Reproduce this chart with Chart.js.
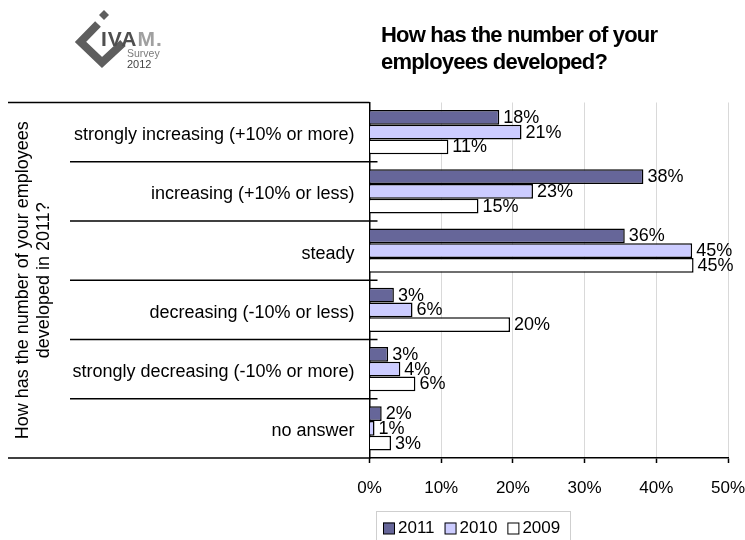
<!DOCTYPE html>
<html>
<head>
<meta charset="utf-8">
<title>Employees development</title>
<script src="https://cdn.jsdelivr.net/npm/chart.js@4/dist/chart.umd.min.js"></script>
<style>
  html, body { margin: 0; padding: 0; background: #fff; }
</style>
</head>
<body>
<canvas id="employeeChart" width="745" height="540"></canvas>
<script>
'use strict';

// Antworten (Kategorien) und Werte je Umfragejahr in %
const categories = [
  'strongly increasing (+10% or more)',
  'increasing (+10% or less)',
  'steady',
  'decreasing (-10% or less)',
  'strongly decreasing (-10% or more)',
  'no answer',
];
const seriesLabels = ['2011', '2010', '2009'];
const values2011 = [18.1, 38.2, 35.6, 3.4, 2.6, 1.7];
const values2010 = [21.2, 22.8, 45.0, 6.0, 4.3, 0.7];
const values2009 = [11.0, 15.2, 45.2, 19.6, 6.4, 3.0];
const xTicks = [0, 10, 20, 30, 40, 50];

const titleLines = ['How has the number of your', 'employees developed?'];
const axisTitle = ['How has the number of your employees', 'developed in 2011?'];

const FONT = '"Liberation Sans", Arial, sans-serif';

// Logo, Titel, Trennlinien, Werte und Legende
const decorations = {
  id: 'decorations',
  afterDatasetsDraw(chart) {
    const ctx = chart.ctx;
    ctx.save();
    ctx.font = `18px ${FONT}`;
    ctx.fillStyle = '#000';
    ctx.textBaseline = 'middle';
    ctx.textAlign = 'left';
    chart.data.datasets.forEach((ds, i) => {
      chart.getDatasetMeta(i).data.forEach((bar, j) => {
        ctx.fillText(`${Math.round(ds.data[j])}%`, bar.x + 4, bar.y + 0.5);
      });
    });
    ctx.restore();
  },
  afterDraw(chart) {
    const ctx = chart.ctx;
    const xs = chart.scales.x;
    const ys = chart.scales.y;
    ctx.save();

    // Trennlinien links der Achse
    const n = categories.length;
    const step = (ys.bottom - ys.top) / n;
    ctx.strokeStyle = '#000';
    ctx.lineWidth = 1.5;
    for (let i = 0; i <= n; i++) {
      const py = ys.top + i * step;
      const outer = i === 0 || i === n;
      ctx.beginPath();
      ctx.moveTo(outer ? 8 : 70, py);
      ctx.lineTo(outer ? xs.left : xs.left + 8, py);
      ctx.stroke();
    }

    // Titel
    ctx.fillStyle = '#000';
    ctx.font = `bold 22px ${FONT}`;
    ctx.textAlign = 'left';
    ctx.textBaseline = 'alphabetic';
    if ('letterSpacing' in ctx) ctx.letterSpacing = '-0.8px';
    ctx.fillText(titleLines[0], 381, 41.5);
    ctx.fillText(titleLines[1], 381, 69);
    if ('letterSpacing' in ctx) ctx.letterSpacing = '0px';

    // Logo
    ctx.strokeStyle = '#5e5e5e';
    ctx.lineWidth = 8;
    ctx.lineJoin = 'miter';
    ctx.beginPath();
    ctx.moveTo(98, 24);
    ctx.lineTo(80.5, 42);
    ctx.lineTo(102, 62.5);
    ctx.lineTo(123, 43);
    ctx.stroke();
    ctx.fillStyle = '#5e5e5e';
    ctx.beginPath();
    ctx.moveTo(104, 10);
    ctx.lineTo(109, 15);
    ctx.lineTo(104, 20);
    ctx.lineTo(99, 15);
    ctx.closePath();
    ctx.fill();
    ctx.font = `bold 21px ${FONT}`;
    if ('letterSpacing' in ctx) ctx.letterSpacing = '1px';
    ctx.fillStyle = '#4f4f4f';
    ctx.fillText('IVA', 101, 45.5);
    const ivaW = ctx.measureText('IVA').width;
    ctx.fillStyle = '#a0a0a0';
    ctx.fillText('M.', 101 + ivaW, 45.5);
    if ('letterSpacing' in ctx) ctx.letterSpacing = '0px';
    ctx.font = `10.5px ${FONT}`;
    ctx.fillStyle = '#7a7a7a';
    ctx.fillText('Survey', 127, 56.5);
    ctx.font = `11px ${FONT}`;
    ctx.fillStyle = '#444';
    ctx.fillText('2012', 127, 68);

    // Legende
    ctx.strokeStyle = '#cfcfcf';
    ctx.lineWidth = 1;
    ctx.strokeRect(376.5, 511.5, 194, 40);
    ctx.font = `17px ${FONT}`;
    ctx.textBaseline = 'middle';
    let lx = 383;
    const ly = 528.5;
    chart.data.datasets.forEach(ds => {
      ctx.fillStyle = ds.backgroundColor;
      ctx.fillRect(lx, ly - 6, 11.5, 11.5);
      ctx.strokeStyle = '#000';
      ctx.strokeRect(lx + 0.5, ly - 5.5, 11, 11);
      ctx.fillStyle = '#000';
      ctx.fillText(ds.label, lx + 15, ly);
      lx += 15 + ctx.measureText(ds.label).width + 10;
    });

    ctx.restore();
  },
};

const ctx = document.getElementById('employeeChart').getContext('2d');
new Chart(ctx, {
  type: 'bar',
  data: {
    labels: categories,
    datasets: [
      { label: seriesLabels[0], data: values2011, backgroundColor: '#666699' },
      { label: seriesLabels[1], data: values2010, backgroundColor: '#CCCCFF' },
      { label: seriesLabels[2], data: values2009, backgroundColor: '#FFFFFF' },
    ],
  },
  options: {
    indexAxis: 'y',
    responsive: false,
    animation: false,
    devicePixelRatio: 1,
    datasets: {
      bar: {
        borderColor: '#000',
        borderWidth: 1.5,
        categoryPercentage: 0.745,
        barPercentage: 1,
      },
    },
    layout: { padding: { left: 8, right: 17, top: 102.5, bottom: 0 } },
    plugins: {
      legend: { display: false },
      tooltip: { enabled: false },
    },
    scales: {
      x: {
        min: 0,
        max: 50,
        afterBuildTicks: scale => {
          scale.ticks = xTicks.map(v => ({ value: v }));
        },
        afterFit: scale => {
          scale.height = 82;
          scale.paddingLeft = 0;
          scale.paddingRight = 0;
        },
        grid: {
          color: '#d9d9d9',
          lineWidth: 1,
          tickColor: '#000',
          tickLength: 5,
          tickWidth: 1.5,
        },
        border: { color: '#000', width: 1.5 },
        ticks: {
          color: '#000',
          font: { family: FONT, size: 17 },
          padding: 15,
          callback: value => `${value}%`,
        },
      },
      y: {
        afterFit: scale => {
          scale.width = 361.5;
        },
        grid: { display: false, drawTicks: false },
        border: { color: '#000', width: 1.5 },
        ticks: {
          color: '#000',
          font: { family: FONT, size: 18 },
          padding: 15,
          labelOffset: 3,
        },
        title: {
          display: true,
          text: axisTitle,
          color: '#000',
          font: { family: FONT, size: 18 },
          padding: { top: 4, bottom: 0 },
        },
      },
    },
  },
  plugins: [decorations],
});
</script>
</body>
</html>
